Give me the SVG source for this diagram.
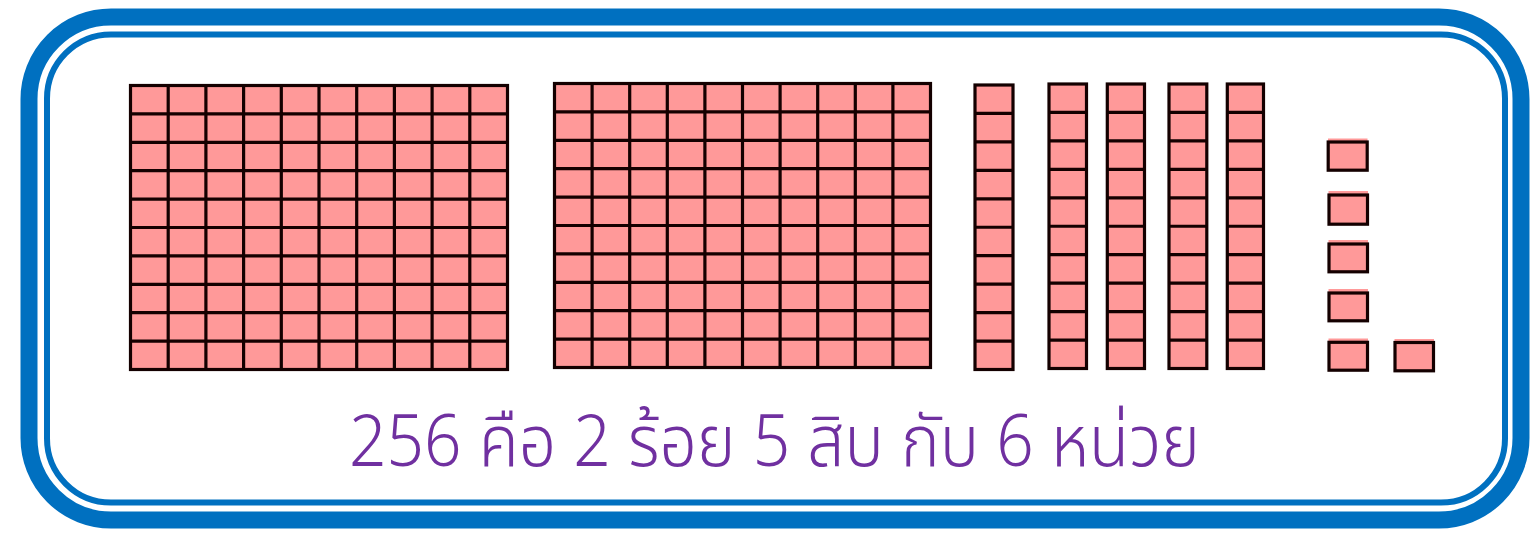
<svg xmlns="http://www.w3.org/2000/svg" width="1537" height="533" viewBox="0 0 1537 533">
<style>
.frame{fill:none;stroke:#0070C0}
.cell{fill:#FF9999;stroke:#140000;stroke-width:3.2}
.ln{fill:none;stroke:#140000;stroke-width:3.2}
.strip{fill:#FF9999}
.lbl{font-family:"Noto Sans Thai","Noto Sans","DejaVu Sans",sans-serif;font-size:71px;font-weight:300;fill:#7030A0}
</style>
<rect width="1537" height="533" fill="#FFFFFF"/>
<g id="frame">
<rect class="frame" x="29" y="17" width="1492" height="503" rx="82" ry="82" stroke-width="17"/>
<rect class="frame" x="47" y="34.5" width="1458" height="468" rx="64" ry="64" stroke-width="6"/>
</g>
<g id="hundred1">
<rect class="cell" x="130.5" y="85.5" width="377" height="284"/>
<path class="ln" d="M168.2 85.5V369.5M205.9 85.5V369.5M243.6 85.5V369.5M281.3 85.5V369.5M319 85.5V369.5M356.7 85.5V369.5M394.4 85.5V369.5M432.1 85.5V369.5M469.8 85.5V369.5M130.5 113.9H507.5M130.5 142.3H507.5M130.5 170.7H507.5M130.5 199.1H507.5M130.5 227.5H507.5M130.5 255.9H507.5M130.5 284.3H507.5M130.5 312.7H507.5M130.5 341.1H507.5"/>
</g>
<g id="hundred2">
<rect class="cell" x="554.5" y="83.5" width="376" height="284"/>
<path class="ln" d="M592.1 83.5V367.5M629.7 83.5V367.5M667.3 83.5V367.5M704.9 83.5V367.5M742.5 83.5V367.5M780.1 83.5V367.5M817.7 83.5V367.5M855.3 83.5V367.5M892.9 83.5V367.5M554.5 111.9H930.5M554.5 140.3H930.5M554.5 168.7H930.5M554.5 197.1H930.5M554.5 225.5H930.5M554.5 253.9H930.5M554.5 282.3H930.5M554.5 310.7H930.5M554.5 339.1H930.5"/>
</g>
<g id="ten1">
<rect class="cell" x="975" y="85" width="38" height="284.5"/>
<path class="ln" d="M975 113.45H1013M975 141.9H1013M975 170.35H1013M975 198.8H1013M975 227.25H1013M975 255.7H1013M975 284.15H1013M975 312.6H1013M975 341.05H1013"/>
</g>
<g id="ten2">
<rect class="cell" x="1049" y="84" width="37.5" height="284.5"/>
<path class="ln" d="M1049 112.45H1086.5M1049 140.9H1086.5M1049 169.35H1086.5M1049 197.8H1086.5M1049 226.25H1086.5M1049 254.7H1086.5M1049 283.15H1086.5M1049 311.6H1086.5M1049 340.05H1086.5"/>
</g>
<g id="ten3">
<rect class="cell" x="1107.3" y="84" width="37.2" height="284.5"/>
<path class="ln" d="M1107.3 112.45H1144.5M1107.3 140.9H1144.5M1107.3 169.35H1144.5M1107.3 197.8H1144.5M1107.3 226.25H1144.5M1107.3 254.7H1144.5M1107.3 283.15H1144.5M1107.3 311.6H1144.5M1107.3 340.05H1144.5"/>
</g>
<g id="ten4">
<rect class="cell" x="1169" y="84" width="37.8" height="284.5"/>
<path class="ln" d="M1169 112.45H1206.8M1169 140.9H1206.8M1169 169.35H1206.8M1169 197.8H1206.8M1169 226.25H1206.8M1169 254.7H1206.8M1169 283.15H1206.8M1169 311.6H1206.8M1169 340.05H1206.8"/>
</g>
<g id="ten5">
<rect class="cell" x="1227.3" y="84" width="36.2" height="284.5"/>
<path class="ln" d="M1227.3 112.45H1263.5M1227.3 140.9H1263.5M1227.3 169.35H1263.5M1227.3 197.8H1263.5M1227.3 226.25H1263.5M1227.3 254.7H1263.5M1227.3 283.15H1263.5M1227.3 311.6H1263.5M1227.3 340.05H1263.5"/>
</g>
<g id="one1">
<rect class="strip" x="1328" y="138.5" width="39.5" height="3"/>
<rect class="cell" x="1328.2" y="142" width="39" height="28.2"/>
</g>
<g id="one2">
<rect class="strip" x="1328.5" y="191" width="39.5" height="3"/>
<rect class="cell" x="1329" y="195" width="38.5" height="29.2"/>
</g>
<g id="one3">
<rect class="strip" x="1328.5" y="240" width="39.5" height="3"/>
<rect class="cell" x="1329" y="244" width="38.5" height="27.8"/>
</g>
<g id="one4">
<rect class="strip" x="1328.5" y="289" width="39.5" height="3"/>
<rect class="cell" x="1329" y="293" width="38.5" height="27.8"/>
</g>
<g id="one5">
<rect class="strip" x="1328.5" y="338.5" width="39.5" height="3"/>
<rect class="cell" x="1329" y="342.3" width="38.5" height="27.9"/>
</g>
<g id="one6">
<rect class="strip" x="1394.5" y="339" width="39.5" height="3"/>
<rect class="cell" x="1395" y="342.5" width="38.5" height="28.3"/>
</g>
<g id="label">
<text class="lbl" x="349" y="466" textLength="851" lengthAdjust="spacingAndGlyphs">256 คือ 2 ร้อย 5 สิบ กับ 6 หน่วย</text>
</g>
</svg>
